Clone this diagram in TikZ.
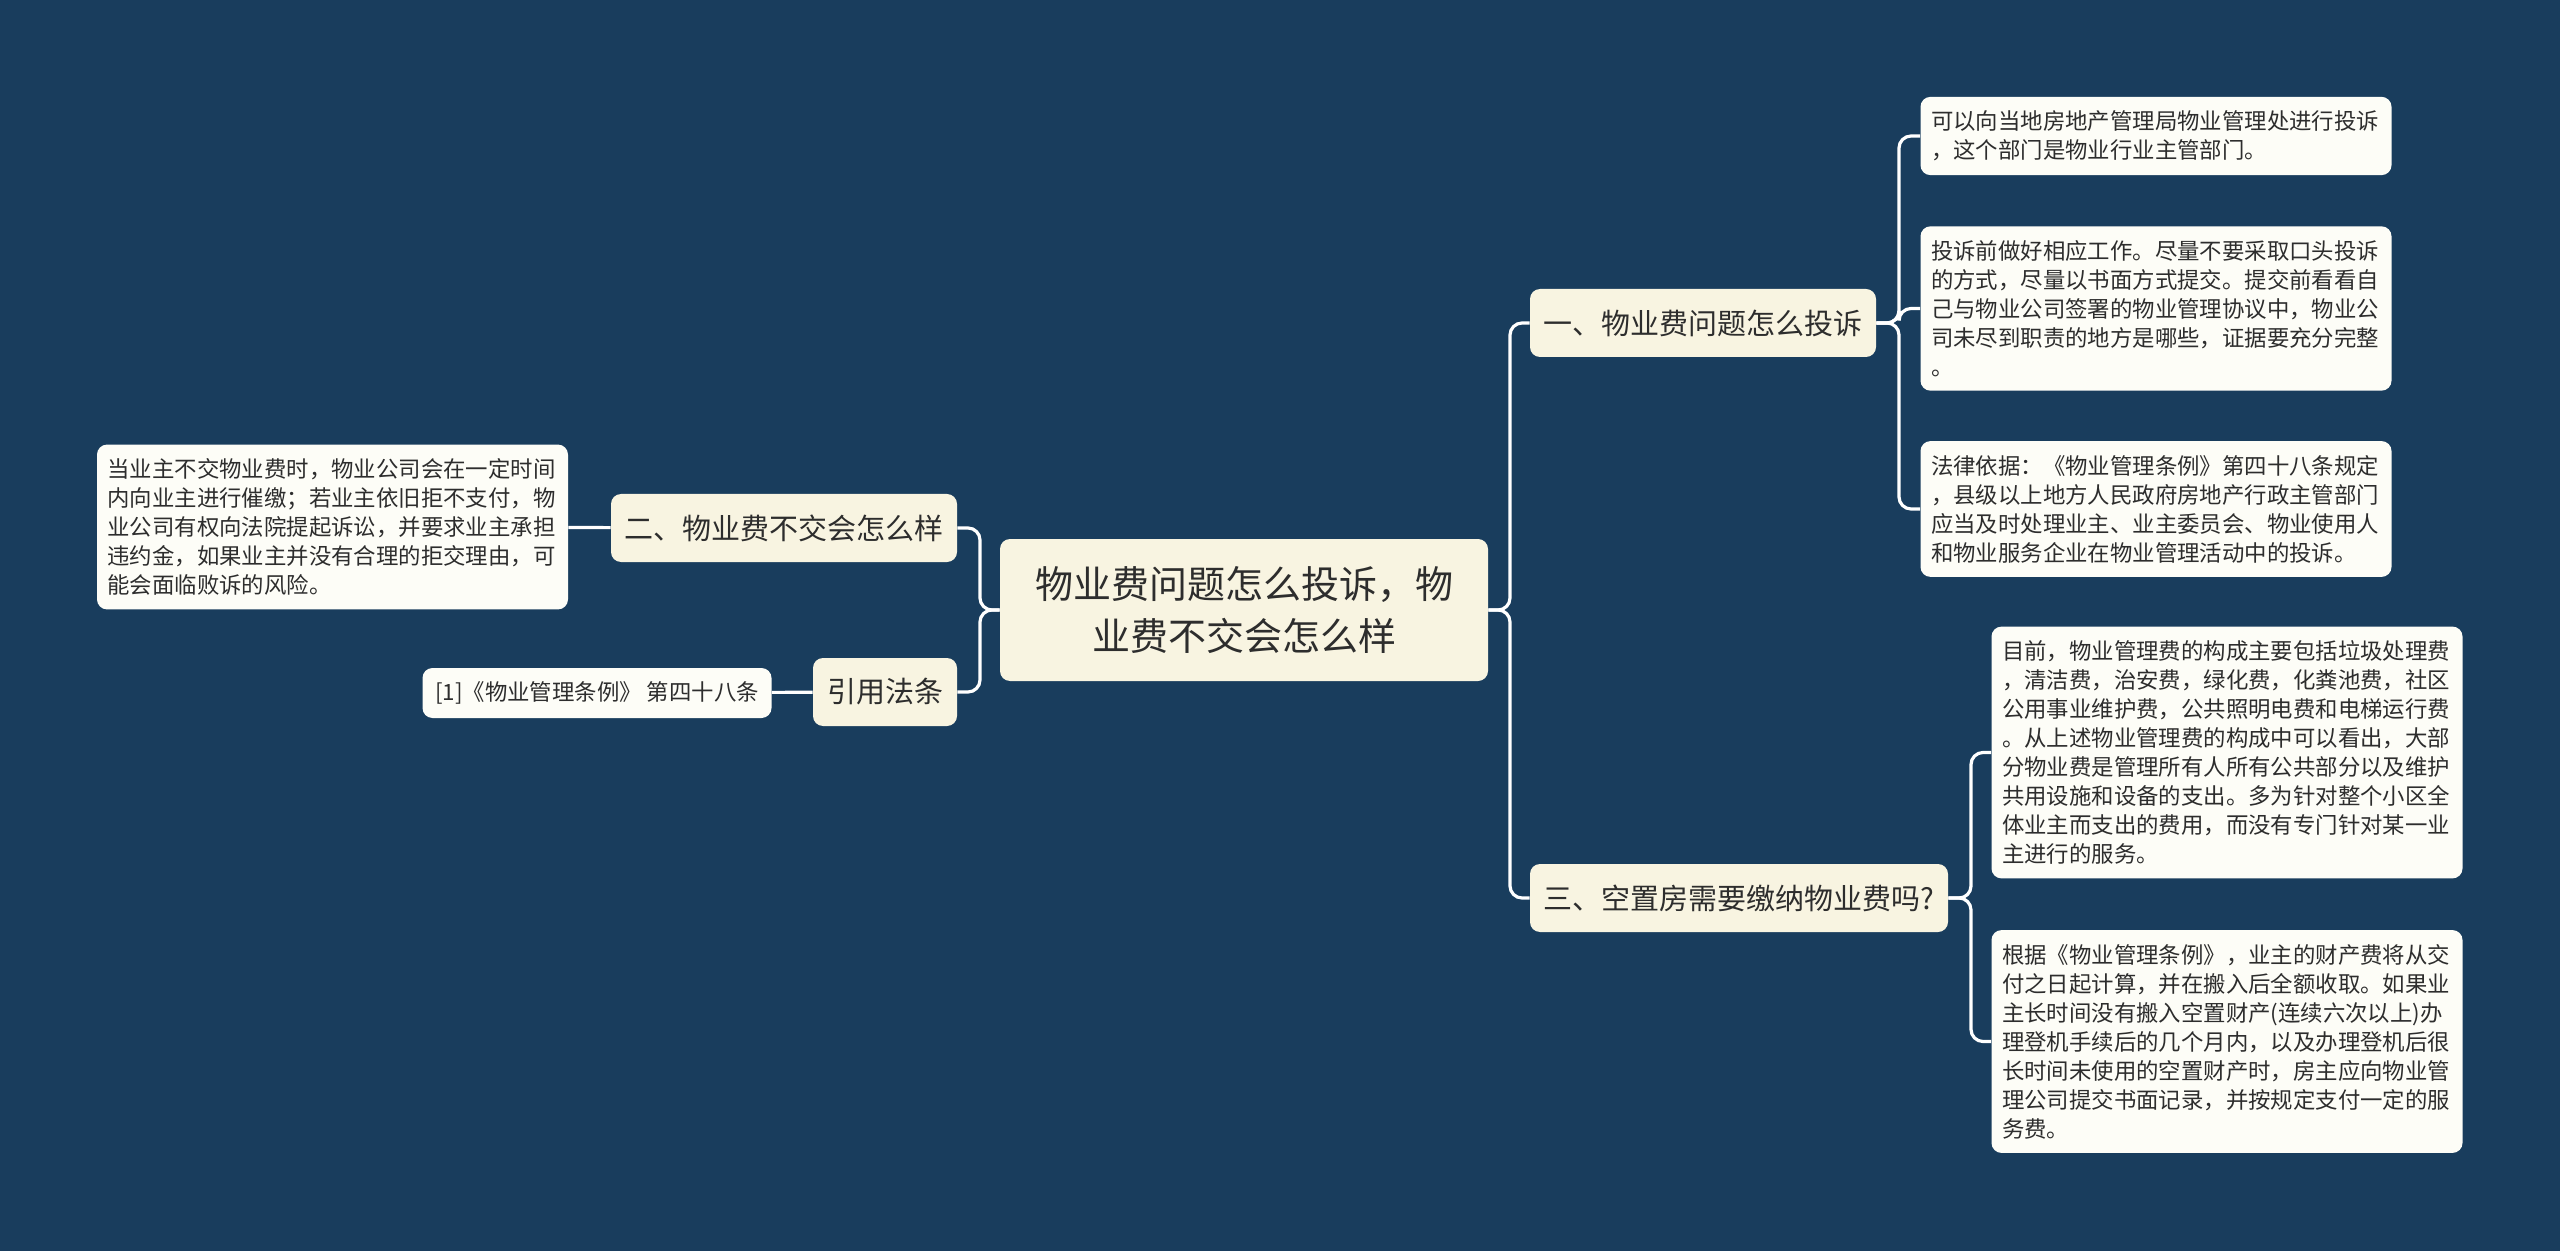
\documentclass[tikz,border=0pt]{standalone}
\usepackage{fontspec}
\setmainfont{Noto Sans CJK SC}
\usepackage{tikz}
\definecolor{bgblue}{RGB}{25,61,93}
\definecolor{cream}{RGB}{248,244,225}
\definecolor{paper}{RGB}{253,253,247}
\definecolor{ink}{RGB}{45,45,45}
\pgfdeclarelayer{backlayer}
\pgfdeclarelayer{edgelayer}
\pgfdeclarelayer{nodelayer}
\pgfsetlayers{backlayer,edgelayer,nodelayer,main}
\tikzstyle{edge}=[draw=white, line width=1.6pt, rounded corners=6pt]
\tikzstyle{root}=[rectangle, rounded corners=5pt, fill=cream, text=ink, align=center, font=\fontsize{19}{25.8}\selectfont, minimum width=244pt, minimum height=71pt]
\tikzstyle{branch}=[rectangle, rounded corners=5pt, fill=cream, text=ink, font=\fontsize{14.5}{17}\selectfont, minimum height=34pt]
\tikzstyle{leaf}=[rectangle, rounded corners=5pt, fill=paper, text=ink, align=left, text width=225pt, inner xsep=5.25pt, inner ysep=7pt, font=\fontsize{11.2}{14.5}\selectfont]
\tikzstyle{cite}=[rectangle, rounded corners=5pt, fill=paper, text=ink, font=\fontsize{11.2}{14.5}\selectfont, minimum width=174.5pt, minimum height=25pt]

\begin{document}
\begin{tikzpicture}[x=0.5pt, y=-0.5pt]
			\useasboundingbox (0, 0) rectangle (2560, 1251);
			\begin{pgfonlayer}{backlayer}
			\fill [bgblue] (0, 0) rectangle (2560, 1251);
			\end{pgfonlayer}
			\begin{pgfonlayer}{nodelayer}
			\node [style=root] (0) at (1244, 610) {物业费问题怎么投诉，物\\业费不交会怎么样};
			\node [style=branch, minimum width=173pt] (1) at (1703, 323) {一、物业费问题怎么投诉};
			\node [style=branch, minimum width=209pt] (2) at (1739, 898) {三、空置房需要缴纳物业费吗?};
			\node [style=branch, minimum width=173pt] (3) at (784, 528) {二、物业费不交会怎么样};
			\node [style=branch, minimum width=72pt] (4) at (885, 692) {引用法条};
			\node [style=leaf] (5) at (2156, 136) {可以向当地房地产管理局物业管理处进行投诉\\，这个部门是物业行业主管部门。};
			\node [style=leaf] (6) at (2156, 308.5) {投诉前做好相应工作。尽量不要采取口头投诉\\的方式，尽量以书面方式提交。提交前看看自\\己与物业公司签署的物业管理协议中，物业公\\司未尽到职责的地方是哪些，证据要充分完整\\。};
			\node [style=leaf] (7) at (2156, 509) {法律依据：《物业管理条例》第四十八条规定\\，县级以上地方人民政府房地产行政主管部门\\应当及时处理业主、业主委员会、物业使用人\\和物业服务企业在物业管理活动中的投诉。};
			\node [style=leaf] (8) at (2227, 752.5) {目前，物业管理费的构成主要包括垃圾处理费\\，清洁费，治安费，绿化费，化粪池费，社区\\公用事业维护费，公共照明电费和电梯运行费\\。从上述物业管理费的构成中可以看出，大部\\分物业费是管理所有人所有公共部分以及维护\\共用设施和设备的支出。多为针对整个小区全\\体业主而支出的费用，而没有专门针对某一业\\主进行的服务。};
			\node [style=leaf] (9) at (2227, 1041.5) {根据《物业管理条例》，业主的财产费将从交\\付之日起计算，并在搬入后全额收取。如果业\\主长时间没有搬入空置财产(连续六次以上)办\\理登机手续后的几个月内，以及办理登机后很\\长时间未使用的空置财产时，房主应向物业管\\理公司提交书面记录，并按规定支付一定的服\\务费。};
			\node [style=leaf] (10) at (332.5, 527) {当业主不交物业费时，物业公司会在一定时间\\内向业主进行催缴；若业主依旧拒不支付，物\\业公司有权向法院提起诉讼，并要求业主承担\\违约金，如果业主并没有合理的拒交理由，可\\能会面临败诉的风险。};
			\node [style=cite] (11) at (597, 693) {[1]《物业管理条例》 第四十八条};
			\end{pgfonlayer}
			\begin{pgfonlayer}{edgelayer}
			\coordinate (12) at (1510, 610);
			\coordinate (13) at (1899, 323);
			\coordinate (14) at (1971, 898);
			\coordinate (15) at (980, 610);
			\draw [style=edge] (0) -- (12) |- (1);
			\draw [style=edge] (0) -- (12) |- (2);
			\draw [style=edge] (0) -- (15) |- (3);
			\draw [style=edge] (0) -- (15) |- (4);
			\draw [style=edge] (1) -- (13) |- (5);
			\draw [style=edge] (1) -- (13) |- (6);
			\draw [style=edge] (1) -- (13) |- (7);
			\draw [style=edge] (2) -- (14) |- (8);
			\draw [style=edge] (2) -- (14) |- (9);
			\draw (3) [style=edge] -- (10);
			\draw (4) [style=edge] -- (11);
			\end{pgfonlayer}
\end{tikzpicture}
\end{document}
